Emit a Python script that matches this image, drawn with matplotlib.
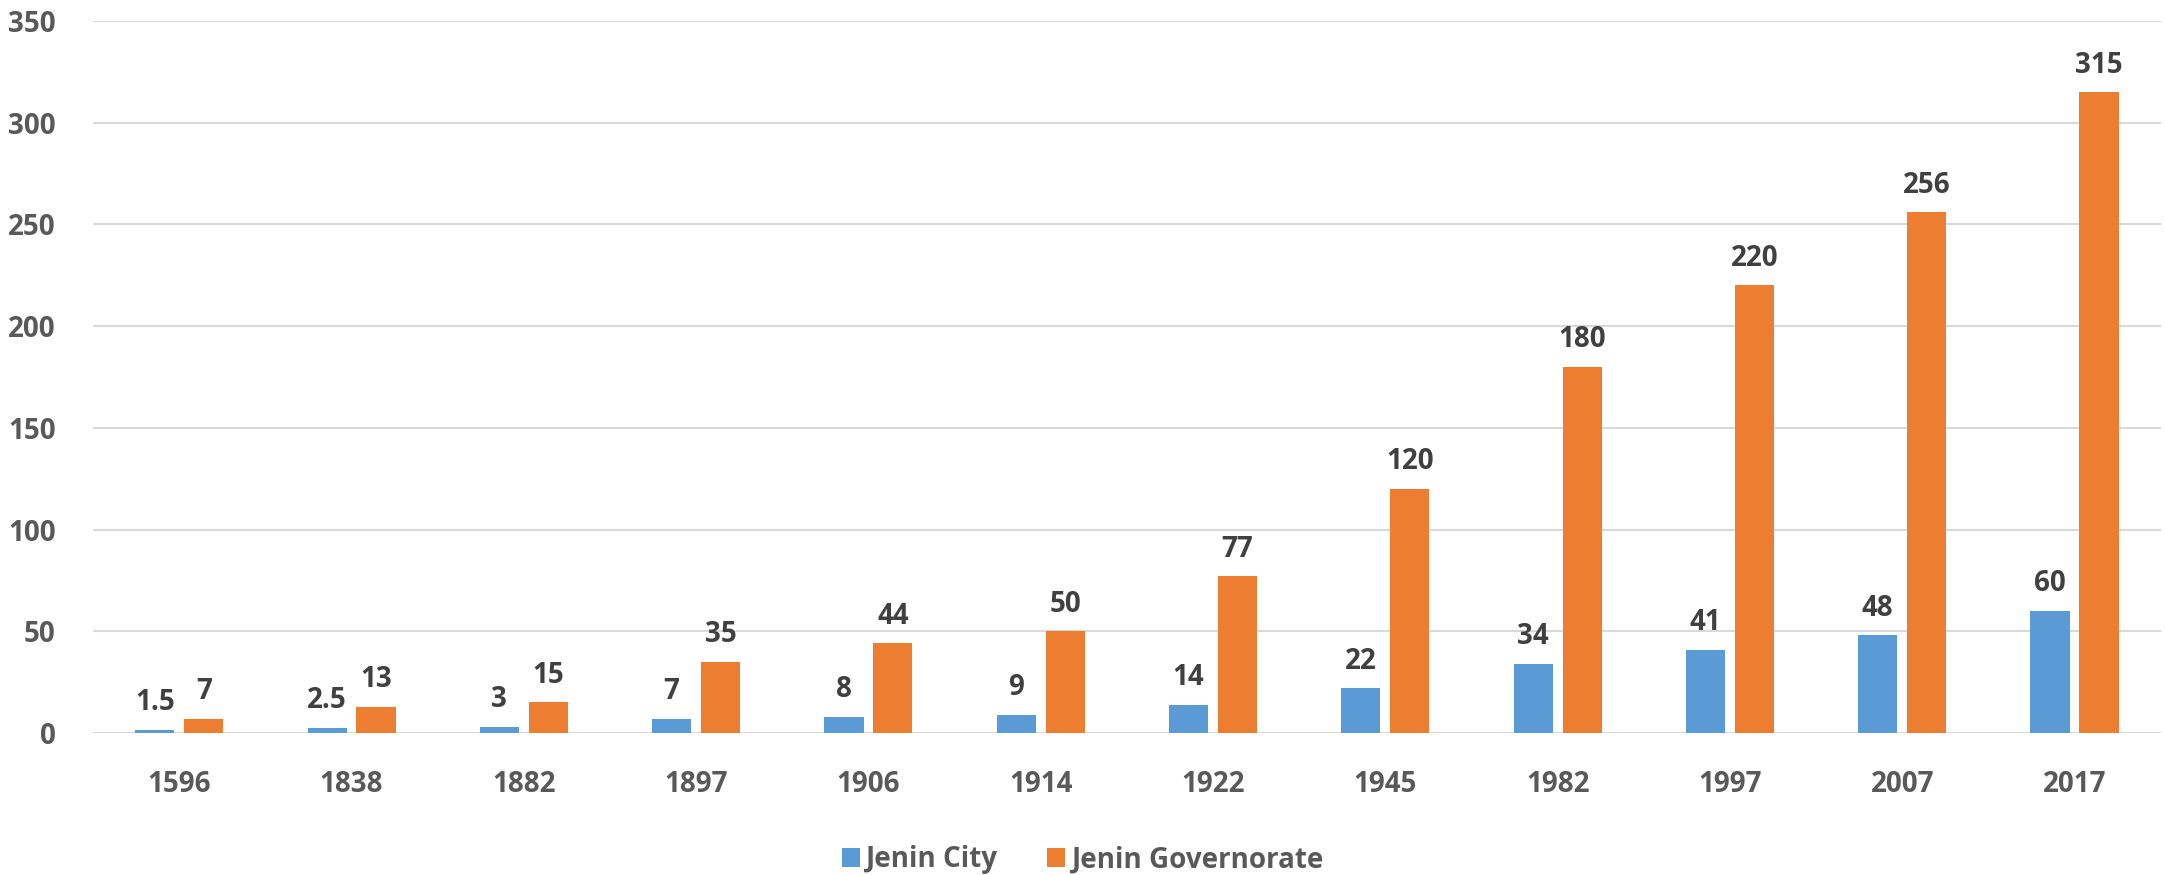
import numpy as np
import matplotlib.pyplot as plt

years = ['1596', '1838', '1882', '1897', '1906', '1914', '1922', '1945', '1982', '1997', '2007', '2017']
city = [1.5, 2.5, 3, 7, 8, 9, 14, 22, 34, 41, 48, 60]
governorate = [7, 13, 15, 35, 44, 50, 77, 120, 180, 220, 256, 315]

plt.rcParams['font.family'] = ['Open Sans', 'DejaVu Sans']
plt.rcParams['font.weight'] = 'bold'

fig = plt.figure(figsize=(21.65, 8.75), dpi=100)
ax = fig.add_axes([0.043, 0.1623, 0.955, 0.8137])

x = np.arange(len(years))
w = 0.227
b1 = ax.bar(x - 0.142, city, w, color='#5B9BD5', label='Jenin City', zorder=3)
b2 = ax.bar(x + 0.142, governorate, w, color='#ED7D31', label='Jenin Governorate', zorder=3)

# value labels on top of each bar
for bars, vals in ((b1, city), (b2, governorate)):
    for r, v in zip(bars, vals):
        ax.annotate(f'{v:g}', (r.get_x() + r.get_width() / 2, r.get_height()),
                    xytext=(0, 14), textcoords='offset points', ha='center', va='baseline',
                    fontsize=20, fontweight='bold', color='#404040')

ax.set_xlim(-0.5, len(years) - 0.5)
ax.set_ylim(0, 350)
ax.set_yticks(range(0, 351, 50))
ax.set_xticks(x)
ax.set_xticklabels(years)
ax.tick_params(length=0, labelsize=20, labelcolor='#595959')
ax.tick_params(axis='x', pad=27)
ax.tick_params(axis='y', pad=27)
ax.grid(axis='y', color='#d9d9d9', linewidth=1.5, zorder=0)
for s in ax.spines.values():
    s.set_visible(False)

fig.legend(handles=[b1, b2], loc='lower center', bbox_to_anchor=(0.5, -0.028), ncol=2, frameon=False,
           fontsize=20, labelcolor='#595959', handlelength=0.65, handleheight=0.65,
           handletextpad=0.2, columnspacing=1.8)

fig.savefig('out.png', dpi=100)
